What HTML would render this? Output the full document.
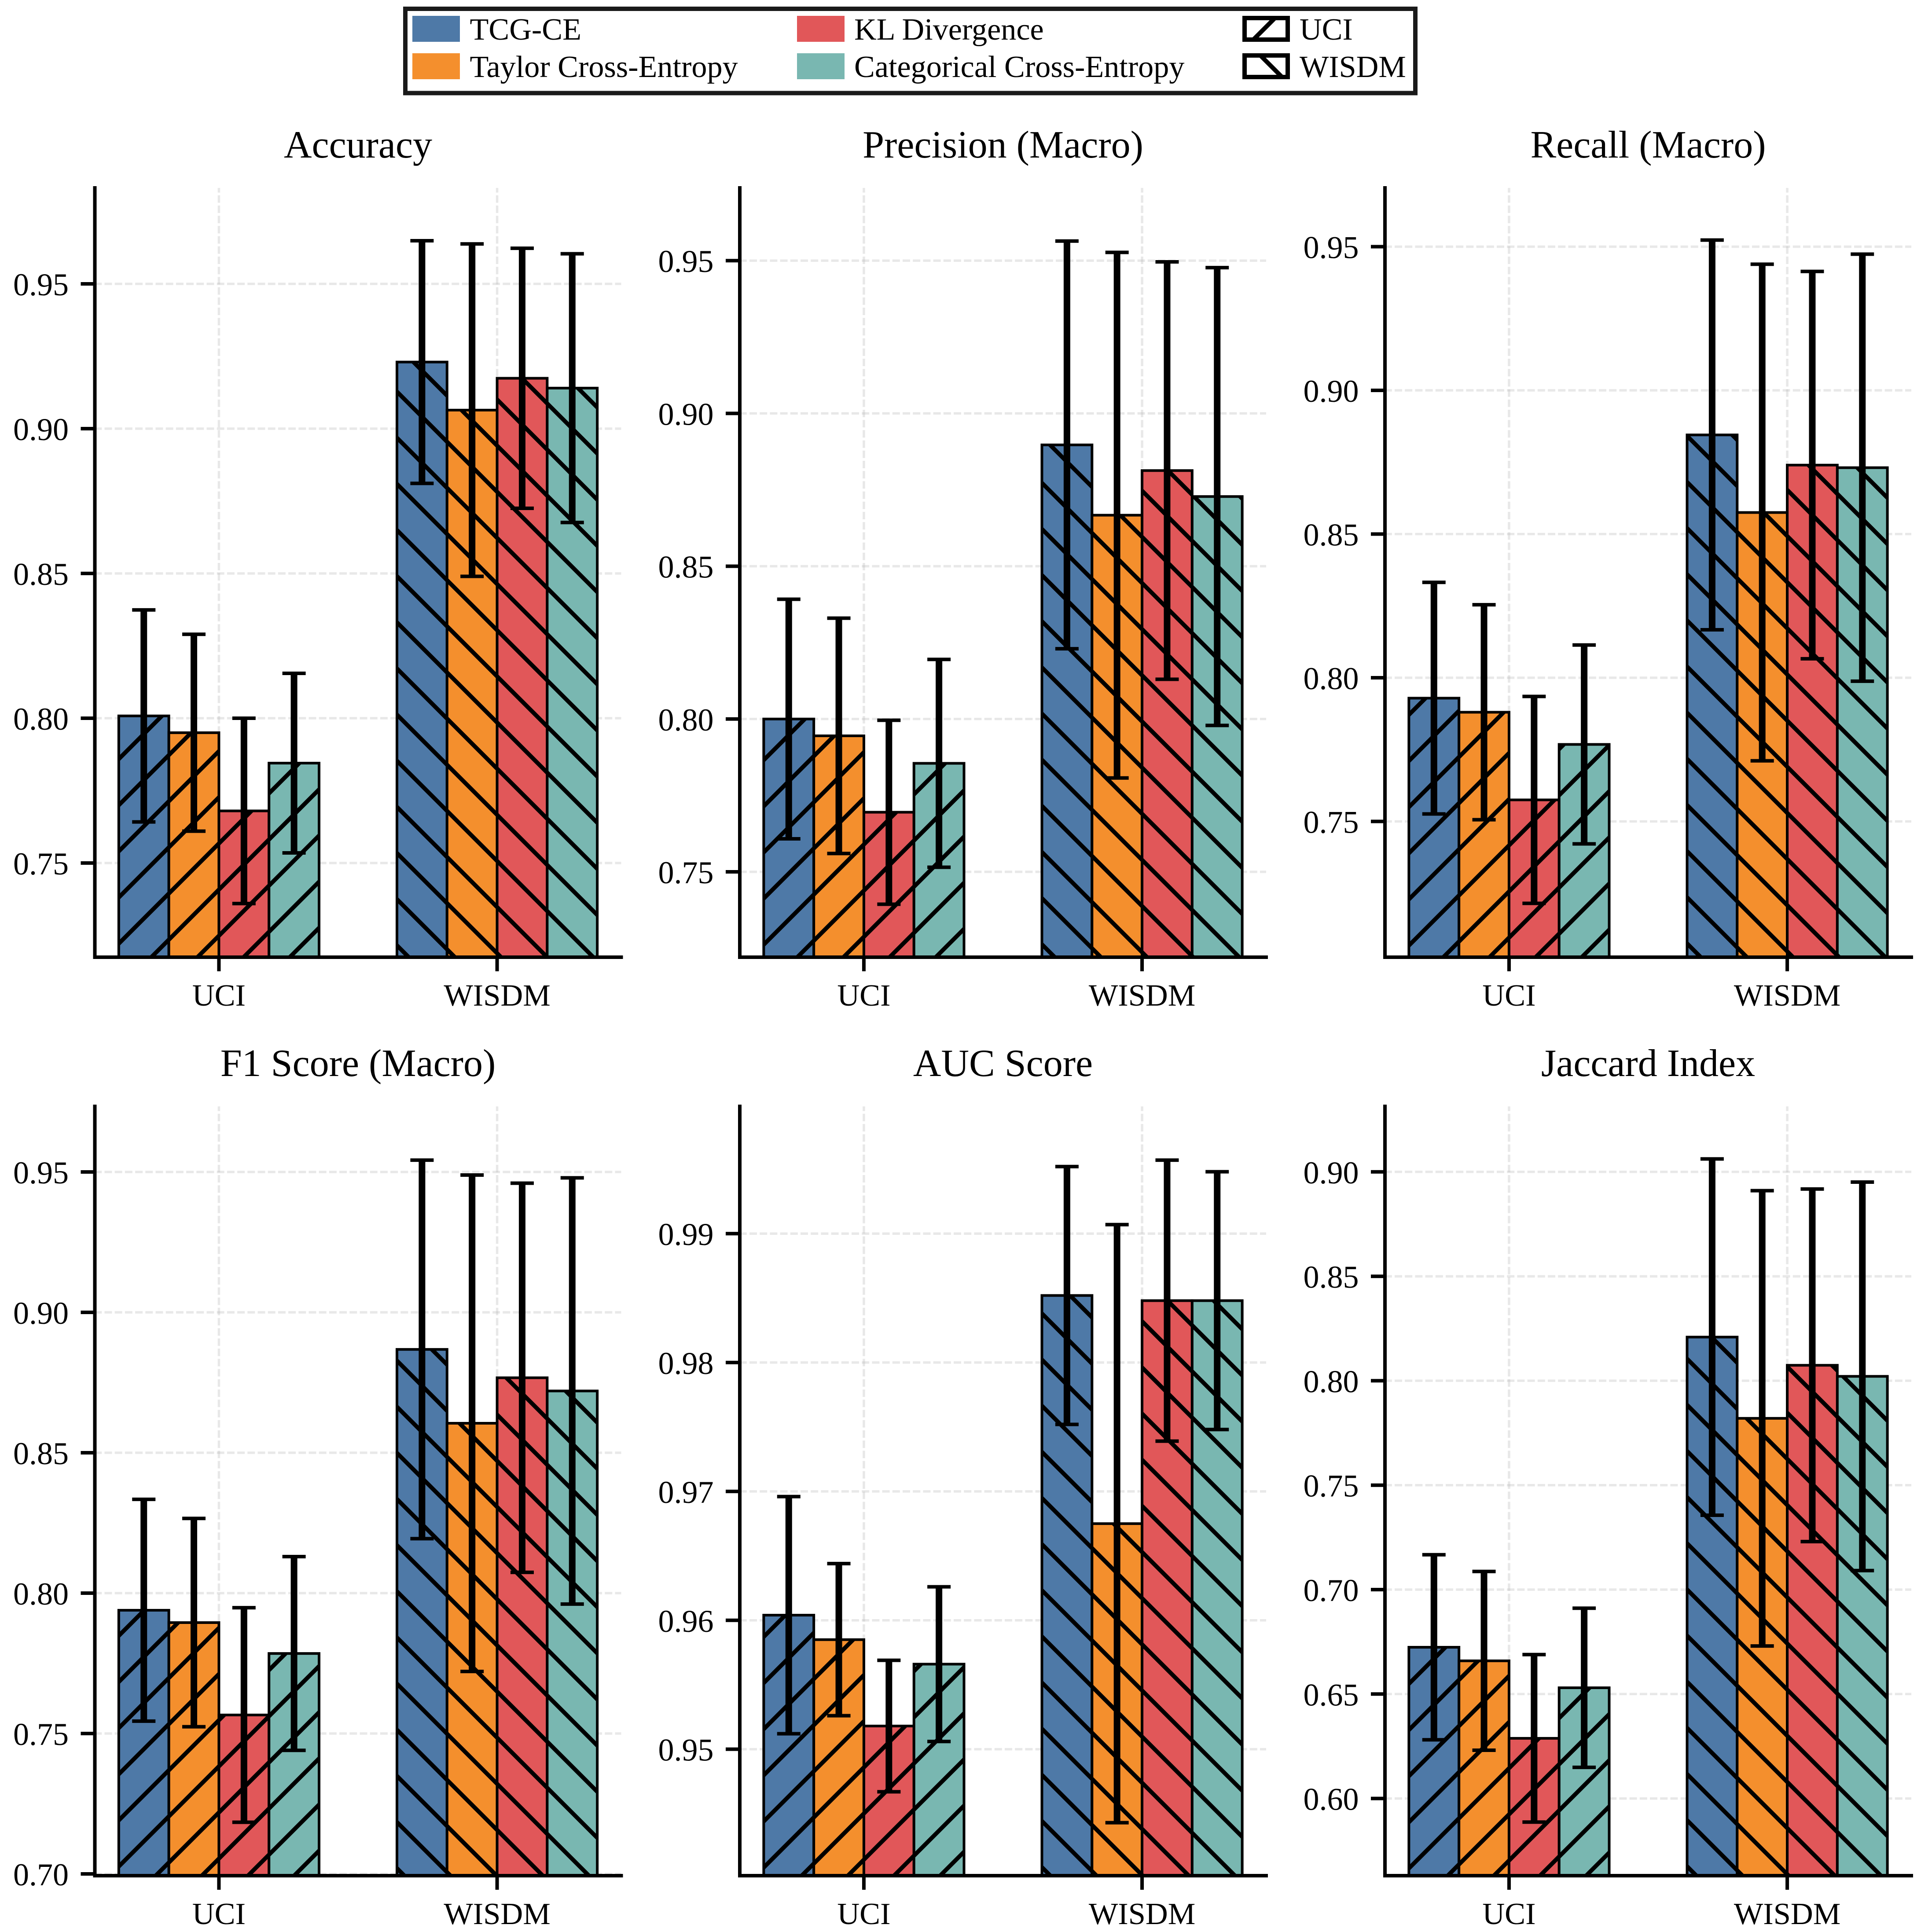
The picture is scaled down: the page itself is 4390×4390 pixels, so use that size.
<!DOCTYPE html>
<html lang="en">
<head>
<meta charset="utf-8">
<title>Loss function comparison on UCI and WISDM</title>
<style>
html,body{margin:0;padding:0;background:#fff;}
svg{display:block;}
text{font-family:"Liberation Serif","Times New Roman",serif;fill:#000;}
</style>
</head>
<body>
<svg id="figure" xmlns="http://www.w3.org/2000/svg" width="4390" height="4390" viewBox="0 0 4390 4390">
  <rect x="0" y="0" width="4390" height="4390" fill="#fff"/>
  <g id="panels"></g>
  <g>
    <clipPath id="legend-uci-clip"><rect x="2823" y="36" width="108" height="59"/></clipPath>
    <clipPath id="legend-wisdm-clip"><rect x="2823" y="121" width="108" height="59"/></clipPath>
    <rect x="921" y="20" width="2295" height="191.5" fill="#fff" stroke="#1a1a1a" stroke-width="10"/>
    <rect x="937" y="36" width="108" height="59" fill="#4E79A7"/>
    <text x="1067.5" y="90" font-size="70.2">TCG-CE</text>
    <rect x="937" y="121" width="108" height="59" fill="#F48F2D"/>
    <text x="1067.5" y="175" font-size="70.2">Taylor Cross-Entropy</text>
    <rect x="1811" y="36" width="108" height="59" fill="#E15759"/>
    <text x="1941" y="90" font-size="70.2">KL Divergence</text>
    <rect x="1811" y="121" width="108" height="59" fill="#79B7B1"/>
    <text x="1941" y="175" font-size="70.2">Categorical Cross-Entropy</text>
    <g>
      <line x1="2843" y1="95" x2="2902" y2="36" stroke="#000" stroke-width="10" clip-path="url(#legend-uci-clip)"/>
      <rect x="2828" y="41" width="98" height="49" fill="none" stroke="#000" stroke-width="10"/>
    </g>
    <text x="2953" y="90" font-size="70.2">UCI</text>
    <g>
      <line x1="2859" y1="121" x2="2918" y2="180" stroke="#000" stroke-width="10" clip-path="url(#legend-wisdm-clip)"/>
      <rect x="2828" y="126" width="98" height="49" fill="none" stroke="#000" stroke-width="10"/>
    </g>
    <text x="2953" y="175" font-size="70.2">WISDM</text>
  </g>
</svg>
<script>
const categories = ['UCI', 'WISDM'];
const methods = ['TCG-CE', 'Taylor Cross-Entropy', 'KL Divergence', 'Categorical Cross-Entropy'];
const methodColors = ['#4E79A7', '#F48F2D', '#E15759', '#79B7B1'];

const accuracyUciMeans = [0.8008, 0.7950, 0.7680, 0.7845];
const accuracyUciErrors = [0.0366, 0.0340, 0.0320, 0.0310];
const accuracyWisdmMeans = [0.9230, 0.9064, 0.9174, 0.9140];
const accuracyWisdmErrors = [0.0419, 0.0574, 0.0449, 0.0464];
const accuracyTicks = ['0.75', '0.80', '0.85', '0.90', '0.95'];
const accuracyRange = [0.71748, 0.98313];

const precisionUciMeans = [0.8000, 0.7945, 0.7695, 0.7855];
const precisionUciErrors = [0.0392, 0.0385, 0.0301, 0.0340];
const precisionWisdmMeans = [0.8897, 0.8667, 0.8813, 0.8728];
const precisionWisdmErrors = [0.0667, 0.0860, 0.0683, 0.0749];
const precisionTicks = ['0.75', '0.80', '0.85', '0.90', '0.95'];
const precisionRange = [0.72206, 0.97379];

const recallUciMeans = [0.7929, 0.7880, 0.7575, 0.7768];
const recallUciErrors = [0.0403, 0.0374, 0.0360, 0.0346];
const recallWisdmMeans = [0.8845, 0.8575, 0.8740, 0.8731];
const recallWisdmErrors = [0.0678, 0.0864, 0.0674, 0.0743];
const recallTicks = ['0.75', '0.80', '0.85', '0.90', '0.95'];
const recallRange = [0.70276, 0.97045];

const f1UciMeans = [0.7939, 0.7895, 0.7566, 0.7785];
const f1UciErrors = [0.0395, 0.0371, 0.0382, 0.0345];
const f1WisdmMeans = [0.8868, 0.8605, 0.8767, 0.8720];
const f1WisdmErrors = [0.0674, 0.0884, 0.0693, 0.0759];
const f1Ticks = ['0.70', '0.75', '0.80', '0.85', '0.90', '0.95'];
const f1Range = [0.69937, 0.97335];

const aucUciMeans = [0.9604, 0.9585, 0.9518, 0.9566];
const aucUciErrors = [0.0092, 0.0059, 0.0051, 0.0060];
const aucWisdmMeans = [0.9852, 0.9675, 0.9848, 0.9848];
const aucWisdmErrors = [0.0100, 0.0232, 0.0109, 0.0100];
const aucTicks = ['0.95', '0.96', '0.97', '0.98', '0.99'];
const aucRange = [0.94019, 0.99987];

const jaccardUciMeans = [0.6724, 0.6659, 0.6288, 0.6530];
const jaccardUciErrors = [0.0443, 0.0428, 0.0401, 0.0381];
const jaccardWisdmMeans = [0.8209, 0.7820, 0.8074, 0.8021];
const jaccardWisdmErrors = [0.0853, 0.1090, 0.0844, 0.0930];
const jaccardTicks = ['0.60', '0.65', '0.70', '0.75', '0.80', '0.85', '0.90'];
const jaccardRange = [0.56304, 0.93135];

const panelTitles = ['Accuracy', 'Precision (Macro)', 'Recall (Macro)', 'F1 Score (Macro)', 'AUC Score', 'Jaccard Index'];
const panelMeans = [
  [accuracyUciMeans, accuracyWisdmMeans],
  [precisionUciMeans, precisionWisdmMeans],
  [recallUciMeans, recallWisdmMeans],
  [f1UciMeans, f1WisdmMeans],
  [aucUciMeans, aucWisdmMeans],
  [jaccardUciMeans, jaccardWisdmMeans]
];
const panelErrors = [
  [accuracyUciErrors, accuracyWisdmErrors],
  [precisionUciErrors, precisionWisdmErrors],
  [recallUciErrors, recallWisdmErrors],
  [f1UciErrors, f1WisdmErrors],
  [aucUciErrors, aucWisdmErrors],
  [jaccardUciErrors, jaccardWisdmErrors]
];
const panelTicks = [accuracyTicks, precisionTicks, recallTicks, f1Ticks, aucTicks, jaccardTicks];
const panelRanges = [accuracyRange, precisionRange, recallRange, f1Range, aucRange, jaccardRange];

const SVG_NS = 'http://www.w3.org/2000/svg';
const AXES_WIDTH = 1196;
const AXES_HEIGHT = 1748;
const COLUMN_LEFTS = [215.5, 1681, 3147];
const ROW_TOPS = [427, 2514];
const BAR_UNITS = 0.18;
const X_MIN = -0.446;
const X_MAX = 1.446;
const HATCH_PERIOD = 104.85;
const HATCH_UP_PHASE = 2414;
const HATCH_DOWN_PHASE = -12;

function make(tag, attrs, parent) {
  const el = document.createElementNS(SVG_NS, tag);
  for (const key in attrs) el.setAttribute(key, attrs[key]);
  parent.appendChild(el);
  return el;
}

function slug(s) {
  return s.toLowerCase().replace(/[^a-z0-9]+/g, '-').replace(/^-|-$/g, '');
}

function hatchPath(x0, y0, x1, y1, up) {
  let d = '';
  if (up) {
    const minC = x0 + y0, maxC = x1 + y1;
    let c = HATCH_UP_PHASE + Math.ceil((minC - HATCH_UP_PHASE) / HATCH_PERIOD) * HATCH_PERIOD;
    for (; c <= maxC + 12; c += HATCH_PERIOD) {
      d += 'M' + (x0 - 12).toFixed(2) + ' ' + (c - x0 + 12).toFixed(2) + 'L' + (x1 + 12).toFixed(2) + ' ' + (c - x1 - 12).toFixed(2);
    }
  } else {
    const minC = y0 - x1, maxC = y1 - x0;
    let c = HATCH_DOWN_PHASE + Math.ceil((minC - HATCH_DOWN_PHASE) / HATCH_PERIOD) * HATCH_PERIOD;
    for (; c <= maxC + 12; c += HATCH_PERIOD) {
      d += 'M' + (x0 - 12).toFixed(2) + ' ' + (c + x0 - 12).toFixed(2) + 'L' + (x1 + 12).toFixed(2) + ' ' + (c + x1 + 12).toFixed(2);
    }
  }
  return d;
}

function drawPanel(index, root) {
  const left = COLUMN_LEFTS[index % 3];
  const top = ROW_TOPS[Math.floor(index / 3)];
  const bottom = top + AXES_HEIGHT;
  const right = left + AXES_WIDTH;
  const title = panelTitles[index];
  const name = slug(title);
  const range = panelRanges[index];
  const xAxis = v => left + (v - X_MIN) / (X_MAX - X_MIN) * AXES_WIDTH;
  const yAxis = v => bottom - (v - range[0]) / (range[1] - range[0]) * AXES_HEIGHT;

  const g = make('g', {}, root);
  
  

  const titleEl = make('text', {x: left + AXES_WIDTH / 2, y: top - 69, 'font-size': 88, 'text-anchor': 'middle'}, g);
  titleEl.textContent = title;
  
  

  panelTicks[index].forEach(label => {
    const y = yAxis(parseFloat(label));
    const grid = make('line', {x1: left, y1: y, x2: right, y2: y, stroke: '#b4b4b4', 'stroke-opacity': 0.3, 'stroke-width': 5.5, 'stroke-dasharray': '17 6.2', 'stroke-dashoffset': 1.2}, g);
    
    
  });
  categories.forEach((cat, c) => {
    const x = xAxis(c);
    const grid = make('line', {x1: x, y1: bottom, x2: x, y2: top, stroke: '#b4b4b4', 'stroke-opacity': 0.3, 'stroke-width': 5.5, 'stroke-dasharray': '17 6.2', 'stroke-dashoffset': 2.6}, g);
    
    
  });

  const errorBars = [];
  categories.forEach((cat, c) => {
    methods.forEach((method, m) => {
      const mean = panelMeans[index][c][m];
      const err = panelErrors[index][c][m];
      const x0 = xAxis(c + (m - 2) * BAR_UNITS);
      const x1 = xAxis(c + (m - 1) * BAR_UNITS);
      const yTop = yAxis(mean);

      const fill = make('rect', {x: x0, y: yTop, width: x1 - x0, height: bottom - yTop, fill: methodColors[m]}, g);
      
      

      const clipId = 'clip-' + index + '-' + c + '-' + m;
      const clip = make('clipPath', {id: clipId}, g);
      make('rect', {x: x0, y: yTop, width: x1 - x0, height: bottom - yTop}, clip);
      const hatch = make('path', {d: hatchPath(x0, yTop, x1, bottom, c === 0), fill: 'none', stroke: '#000', 'stroke-width': 9.5, 'clip-path': 'url(#' + clipId + ')'}, g);
      
      

      const edge = make('rect', {x: x0, y: yTop, width: x1 - x0, height: bottom - yTop, fill: 'none', stroke: '#000', 'stroke-width': 6}, g);
      
      

      errorBars.push({x: (x0 + x1) / 2, hi: yAxis(mean + err), lo: yAxis(mean - err)});
    });
  });

  errorBars.forEach(bar => {
    const eg = make('g', {stroke: '#000', fill: 'none'}, g);
    
    
    make('line', {x1: bar.x, y1: bar.hi, x2: bar.x, y2: bar.lo, 'stroke-width': 15}, eg);
    make('line', {x1: bar.x - 26.5, y1: bar.hi, x2: bar.x + 26.5, y2: bar.hi, 'stroke-width': 8}, eg);
    make('line', {x1: bar.x - 26.5, y1: bar.lo, x2: bar.x + 26.5, y2: bar.lo, 'stroke-width': 8}, eg);
  });

  const leftSpine = make('line', {x1: left, y1: top, x2: left, y2: bottom, stroke: '#000', 'stroke-width': 8, 'stroke-linecap': 'square'}, g);
  
  
  const bottomSpine = make('line', {x1: left, y1: bottom, x2: right, y2: bottom, stroke: '#000', 'stroke-width': 8, 'stroke-linecap': 'square'}, g);
  
  

  panelTicks[index].forEach(label => {
    const y = yAxis(parseFloat(label));
    const tick = make('line', {x1: left - 32, y1: y, x2: left - 4, y2: y, stroke: '#000', 'stroke-width': 8}, g);
    
    
    const text = make('text', {x: left - 59.5, y: y + 26, 'font-size': 72, 'text-anchor': 'end'}, g);
    text.textContent = label;
    
    
  });

  categories.forEach((cat, c) => {
    const x = xAxis(c);
    const tick = make('line', {x1: x, y1: bottom + 4, x2: x, y2: bottom + 32, stroke: '#000', 'stroke-width': 8}, g);
    
    
    const text = make('text', {x: x, y: bottom + 110, 'font-size': 70.4, 'text-anchor': 'middle'}, g);
    text.textContent = cat;
    
    
  });
}

const panelRoot = document.getElementById('panels');
panelTitles.forEach((title, i) => drawPanel(i, panelRoot));
</script>
</body>
</html>
